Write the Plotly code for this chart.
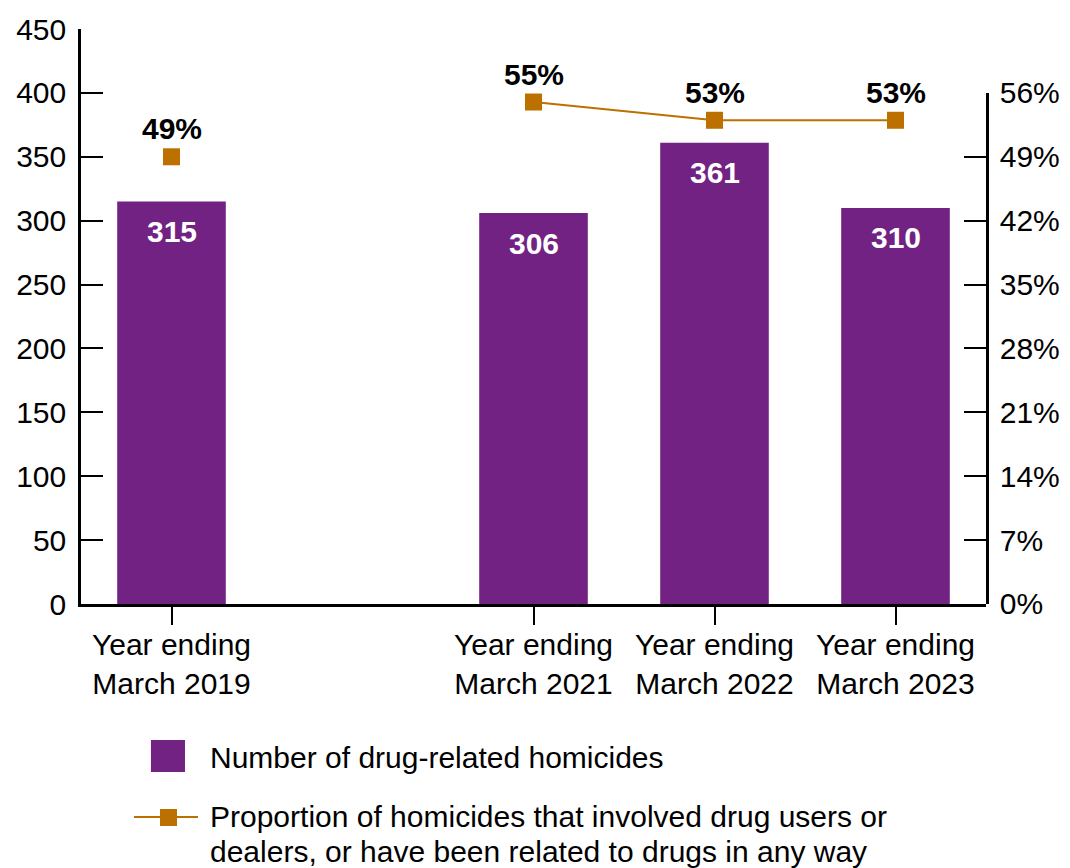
import plotly.graph_objects as go

# Chart data
categories = [
    "Year ending<br>March 2019",
    "Year ending<br>March 2020",
    "Year ending<br>March 2021",
    "Year ending<br>March 2022",
    "Year ending<br>March 2023",
]
homicides = [315, None, 306, 361, 310]
proportion_pct = [49, None, 55, 53, 53]
left_ticks = [0, 50, 100, 150, 200, 250, 300, 350, 400, 450]
right_ticks = [0, 7, 14, 21, 28, 35, 42, 49, 56]

bar_name = "Number of drug-related homicides"
line_name_1 = "Proportion of homicides that involved drug users or"
line_name_2 = "dealers, or have been related to drugs in any way"

PURPLE = "#722282"
ORANGE = "#bb7000"
FONT = "Liberation Sans, Arial, Helvetica, sans-serif"
FS = 30

xs = list(range(len(categories)))
shown = [i for i, v in enumerate(homicides) if v is not None]

fig = go.Figure()
fig.add_trace(go.Bar(
    x=xs, y=homicides, name=bar_name, width=0.6,
    marker=dict(color=PURPLE, line=dict(width=0)),
    xaxis="x", yaxis="y", showlegend=False, hoverinfo="y",
))
fig.add_trace(go.Scatter(
    x=xs, y=proportion_pct, name=line_name_1 + " " + line_name_2,
    mode="lines+markers", connectgaps=False,
    line=dict(color=ORANGE, width=2.2),
    marker=dict(symbol="square", size=17, color=ORANGE),
    xaxis="x", yaxis="y2", showlegend=False, cliponaxis=False,
))

annotations = []
# value labels inside bars
for i, v in enumerate(homicides):
    if v is None:
        continue
    annotations.append(dict(
        x=i, y=v, xref="x", yref="y", text=f"<b>{v}</b>", showarrow=False,
        yanchor="middle", yshift=-30,
        font=dict(family=FONT, size=FS, color="white"),
    ))
# percentage labels above markers
for i, p in enumerate(proportion_pct):
    if p is None:
        continue
    annotations.append(dict(
        x=i, y=p, xref="x", yref="y2", text=f"<b>{p}%</b>", showarrow=False,
        yanchor="middle", yshift=28,
        font=dict(family=FONT, size=FS, color="black"),
    ))

# legend drawn below the plot
legend_font = dict(family=FONT, size=FS, color="black")
annotations += [
    dict(x=0.1403, y=-0.2661, xref="paper", yref="paper", text=bar_name,
         showarrow=False, xanchor="left", yanchor="middle", font=legend_font),
    dict(x=0.1403, y=-0.3704, xref="paper", yref="paper", text=line_name_1,
         showarrow=False, xanchor="left", yanchor="middle", font=legend_font),
    dict(x=0.1403, y=-0.4313, xref="paper", yref="paper", text=line_name_2,
         showarrow=False, xanchor="left", yanchor="middle", font=legend_font),
]
shapes = [
    dict(type="rect", xref="paper", yref="paper", x0=0.0773, x1=0.1149,
         y0=-0.2922, y1=-0.2365, fillcolor=PURPLE, line=dict(width=0)),
    dict(type="line", xref="paper", yref="paper", x0=0.0586, x1=0.1293,
         y0=-0.3704, y1=-0.3704, line=dict(color=ORANGE, width=2.2)),
    dict(type="rect", xref="paper", yref="paper", x0=0.0873, x1=0.1061,
         y0=-0.3861, y1=-0.3565, fillcolor=ORANGE, line=dict(width=0)),
]

fig.update_layout(
    width=1070, height=868,
    margin=dict(l=81, r=84, t=29, b=264, autoexpand=False),
    paper_bgcolor="white", plot_bgcolor="rgba(0,0,0,0)",
    font=dict(family=FONT, size=FS, color="black"),
    bargap=0.4,
    xaxis=dict(
        range=[-0.5, len(categories) - 0.5],
        tickmode="array", tickvals=shown,
        ticktext=[categories[i] for i in shown],
        showline=True, linecolor="black", linewidth=2.5,
        ticks="outside", ticklen=18, tickwidth=2, tickcolor="black",
        showgrid=False, zeroline=False, automargin=False,
        tickfont=dict(family=FONT, size=FS, color="black"),
        ticklabelstandoff=-6,
    ),
    yaxis=dict(
        range=[0, 450], tickmode="array", tickvals=left_ticks,
        showline=True, linecolor="black", linewidth=2.5,
        ticks="inside", ticklen=22, tickwidth=2, tickcolor="black",
        showgrid=False, zeroline=False, automargin=False,
        tickfont=dict(family=FONT, size=FS, color="black"),
        ticklabelstandoff=6,
    ),
    yaxis2=dict(
        domain=[0, 400 / 450], anchor="x", side="right",
        range=[0, 56], tickmode="array", tickvals=right_ticks,
        ticktext=[f"{t}%" for t in right_ticks],
        showline=True, linecolor="black", linewidth=2.5,
        ticks="inside", ticklen=22, tickwidth=2, tickcolor="black",
        showgrid=False, zeroline=False, automargin=False,
        tickfont=dict(family=FONT, size=FS, color="black"),
        ticklabelstandoff=5,
    ),
    annotations=annotations,
    shapes=shapes,
    showlegend=False,
)

fig.write_html("out.html")
